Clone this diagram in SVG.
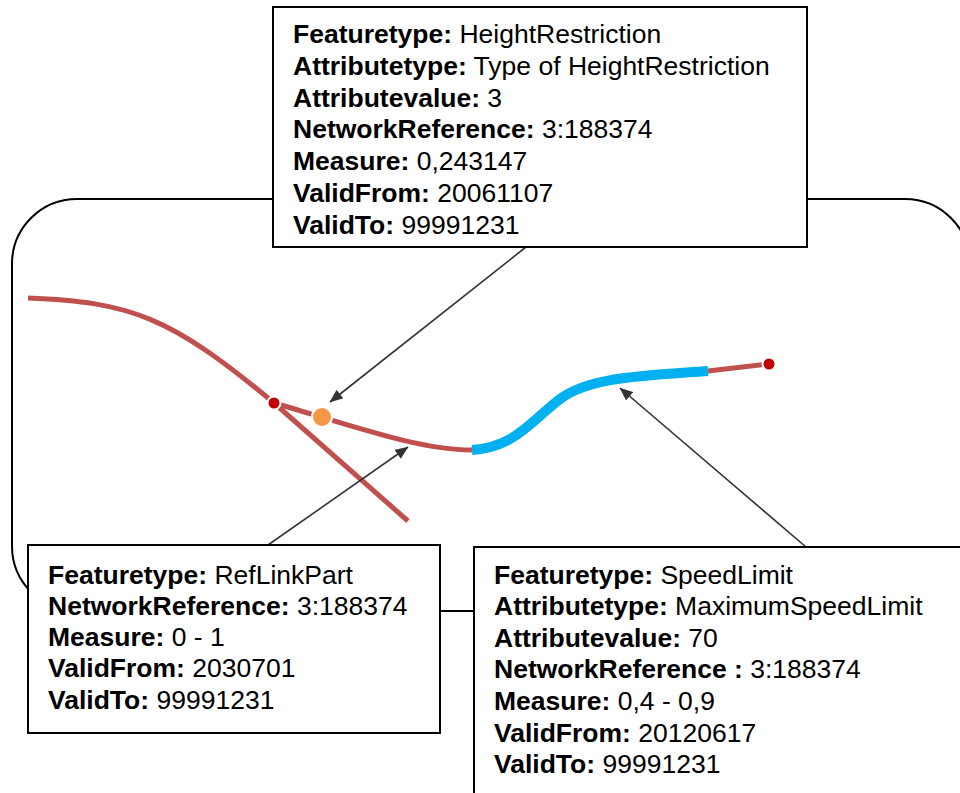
<svg xmlns="http://www.w3.org/2000/svg" width="960" height="793" viewBox="0 0 960 793">
<defs>
<style>
.box{fill:#fff;stroke:#000;stroke-width:2}
.frame{fill:none;stroke:#000;stroke-width:2}
.lbl{font-family:"Liberation Sans",Arial,sans-serif;font-size:26.5px;fill:#000}
.b{font-weight:bold}
.road{fill:none;stroke:#C0504D;stroke-width:5}
.part{fill:none;stroke:#00B0F0;stroke-width:10}
.conn{fill:none;stroke:#333;stroke-width:1.6}
</style>
<marker id="ah" viewBox="0 0 10 10" refX="9.5" refY="5" markerWidth="8" markerHeight="8" markerUnits="userSpaceOnUse" orient="auto">
<path d="M0,0 L10,5 L0,10 z" fill="#333"/>
</marker>
<marker id="ah2" viewBox="0 0 12 10" refX="11.5" refY="5" markerWidth="14" markerHeight="11" markerUnits="userSpaceOnUse" orient="auto">
<path d="M0,0 L12,5 L0,10 z" fill="#333"/>
</marker>
</defs>
<g id="frame">
<rect class="frame" x="12" y="199" width="958" height="412" rx="65" ry="65"/>
</g>
<g id="roads">
<path class="road" d="M28 298 C130 302 170 316 274 403"/>
<path class="road" d="M274 403 L408 521"/>
<path class="road" d="M274 403 C360 428 420 450 472 450"/>
<path class="part" d="M472 450 C515 447 530 422 560 399 C590 377 640 376 708 371"/>
<path class="road" d="M708 371 L768 364"/>
<circle cx="274" cy="403" r="6.5" fill="#C00000" stroke="#fff" stroke-width="2"/>
<circle cx="769" cy="364" r="6.5" fill="#C00000" stroke="#fff" stroke-width="2"/>
<circle cx="322" cy="417" r="10" fill="#F79646" stroke="#fff" stroke-width="2"/>
</g>
<g id="connectors">
<path class="conn" d="M526 247 L330 402" marker-end="url(#ah2)"/>
<path class="conn" d="M268 545 L408 447" marker-end="url(#ah2)"/>
<path class="conn" d="M806 547 L620 388" marker-end="url(#ah2)"/>
</g>
<g id="heightrestriction">
<rect class="box" x="273" y="7" width="534" height="240"/>
<text class="lbl" x="293" y="43"><tspan class="b">Featuretype:</tspan> HeightRestriction</text>
<text class="lbl" x="293" y="74.8"><tspan class="b">Attributetype:</tspan> Type of HeightRestriction</text>
<text class="lbl" x="293" y="106.6"><tspan class="b">Attributevalue:</tspan> 3</text>
<text class="lbl" x="293" y="138.4"><tspan class="b">NetworkReference:</tspan> 3:188374</text>
<text class="lbl" x="293" y="170.2"><tspan class="b">Measure:</tspan> 0,243147</text>
<text class="lbl" x="293" y="202"><tspan class="b">ValidFrom:</tspan> 20061107</text>
<text class="lbl" x="293" y="233.8"><tspan class="b">ValidTo:</tspan> 99991231</text>
</g>
<g id="reflinkpart">
<rect class="box" x="28" y="545" width="412" height="188"/>
<text class="lbl" x="48" y="583.5"><tspan class="b">Featuretype:</tspan> RefLinkPart</text>
<text class="lbl" x="48" y="614.8"><tspan class="b">NetworkReference:</tspan> 3:188374</text>
<text class="lbl" x="48" y="646.1"><tspan class="b">Measure:</tspan> 0 - 1</text>
<text class="lbl" x="48" y="677.4"><tspan class="b">ValidFrom:</tspan> 2030701</text>
<text class="lbl" x="48" y="708.7"><tspan class="b">ValidTo:</tspan> 99991231</text>
</g>
<g id="speedlimit">
<rect class="box" x="474" y="547" width="520" height="270"/>
<text class="lbl" x="494" y="583.5"><tspan class="b">Featuretype:</tspan> SpeedLimit</text>
<text class="lbl" x="494" y="615.1"><tspan class="b">Attributetype:</tspan> MaximumSpeedLimit</text>
<text class="lbl" x="494" y="646.7"><tspan class="b">Attributevalue:</tspan> 70</text>
<text class="lbl" x="494" y="678.3"><tspan class="b">NetworkReference :</tspan> 3:188374</text>
<text class="lbl" x="494" y="709.9"><tspan class="b">Measure:</tspan> 0,4 - 0,9</text>
<text class="lbl" x="494" y="741.5"><tspan class="b">ValidFrom:</tspan> 20120617</text>
<text class="lbl" x="494" y="773.1"><tspan class="b">ValidTo:</tspan> 99991231</text>
</g>
</svg>
